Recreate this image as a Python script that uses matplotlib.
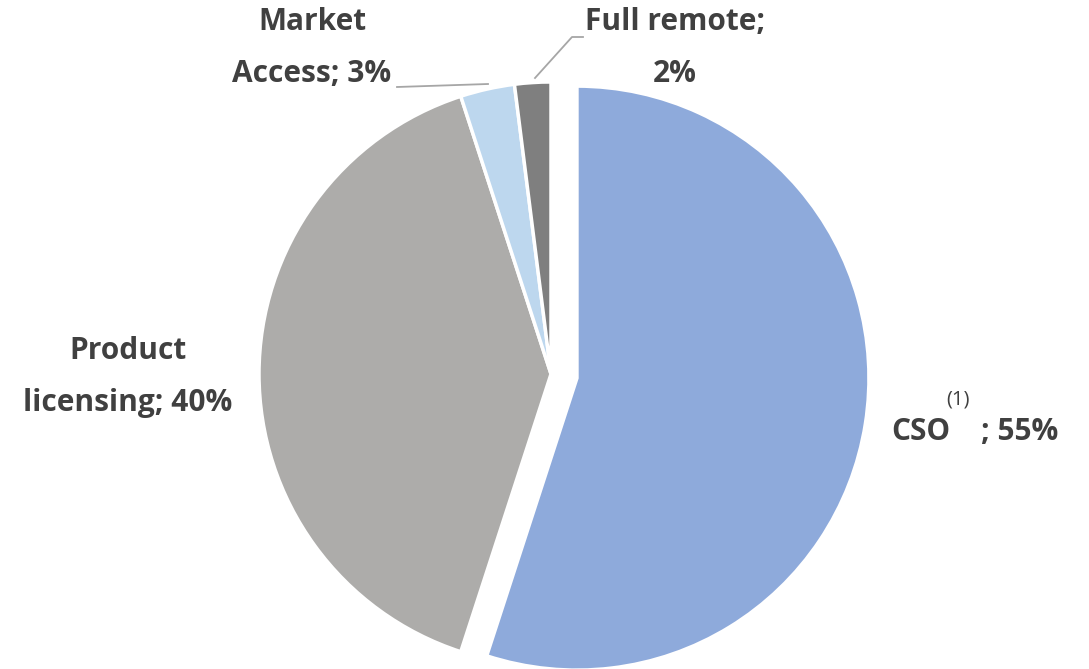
import matplotlib.pyplot as plt

# dados
categorias = ['CSO', 'Product licensing', 'Market Access', 'Full remote']
valores = [55, 40, 3, 2]
cores = ['#8EAADB', '#ADACAA', '#BDD7EE', '#7F7F7F']
explodir = [0.09, 0, 0, 0]

plt.rcParams['font.family'] = ['Open Sans', 'DejaVu Sans']
cor_texto = '#404040'
cor_linha = '#A6A6A6'

raio = 292
fig = plt.figure(figsize=(10.89, 6.69), dpi=100)
ax = fig.add_axes([0, 0, 1, 1])

# pizza em coordenadas de pixel (eixo y invertido -> sentido horário visual)
# no matplotlib o explode está em unidades de dados, por isso multiplica pelo raio
ax.pie(valores, colors=cores, explode=[e * raio for e in explodir], radius=raio,
       center=(551, 374), startangle=-90, counterclock=True, frame=True,
       wedgeprops=dict(edgecolor='white', linewidth=2.5))
ax.set_xlim(0, 1089)
ax.set_ylim(669, 0)
ax.set_aspect('equal')
ax.axis('off')

fs = 21.5
estilo = dict(fontsize=fs, fontweight='bold', color=cor_texto, ha='center', va='center')

ax.text(128, 377, 'Product\nlicensing; %d%%' % valores[1], linespacing=1.95, **estilo)
ax.text(312, 48, 'Market\nAccess; %d%%' % valores[2], linespacing=1.95, **estilo)
ax.text(675, 48, 'Full remote;\n%d%%' % valores[3], linespacing=1.95, **estilo)
ax.text(891, 432, categorias[0], fontsize=fs, fontweight='bold', color=cor_texto,
        ha='left', va='center')
ax.text(958, 400, '(1)', fontsize=14.5, color=cor_texto, ha='center', va='center')
ax.text(1058, 432, '; %d%%' % valores[0], fontsize=fs, fontweight='bold',
        color=cor_texto, ha='right', va='center')

# linhas de chamada
ax.plot([397, 488], [87, 84], color=cor_linha, lw=1.3)
ax.plot([535, 572, 583], [78, 37, 37], color=cor_linha, lw=1.3)

fig.savefig('out.png', dpi=100)
